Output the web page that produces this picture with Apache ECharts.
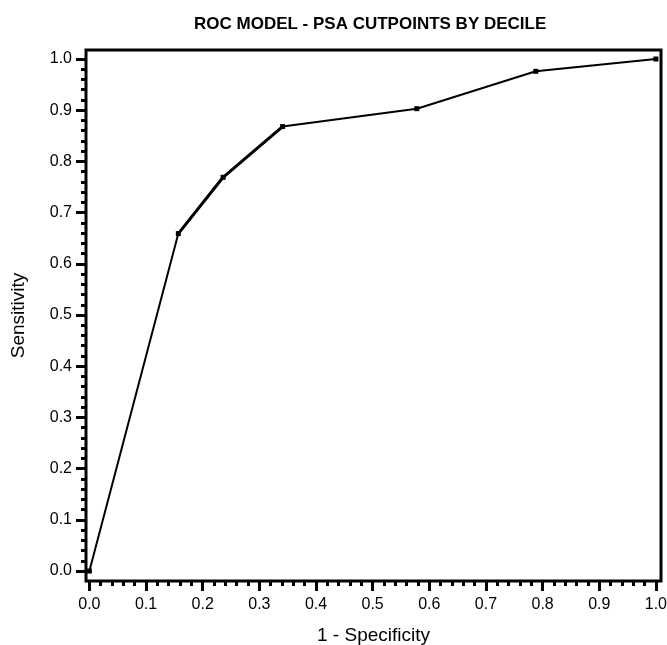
<!DOCTYPE html>
<html>
<head>
<meta charset="utf-8">
<script src="https://cdn.jsdelivr.net/npm/echarts@6/dist/echarts.min.js"></script>
<style>
    html, body { margin: 0; padding: 0; background: #fff; }
    #rocChart { width: 667px; height: 645px; }
</style>
</head>
<body>
<div id="rocChart"></div>
<script>
    // 1 - specificity / sensitivity per decile cutpoint
    const fpr = [0.0, 0.157, 0.236, 0.341, 0.578, 0.788, 1.0];
    const tpr = [0.0, 0.659, 0.769, 0.868, 0.903, 0.976, 1.0];
    const majorTicks = [0, 0.1, 0.2, 0.3, 0.4, 0.5, 0.6, 0.7, 0.8, 0.9, 1.0];
    let minorTicks = [];
    for (let i = 0; i <= 50; i++) {
        minorTicks.push(i / 50);
    }

    const points = fpr.map((x, i) => [x, tpr[i]]);
    // the 0.16 - 0.34 stretch is drawn heavier in the original
    const heavy = points.slice(1, 4);

    const font = 'Liberation Sans';

    function axisPair(dim, min, max) {
        let major = {
            type: 'value',
            min: min,
            max: max,
            position: dim === 'x' ? 'bottom' : 'left',
            axisLine: { show: false, onZero: false },
            splitLine: { show: false },
            axisTick: {
                show: true,
                inside: false,
                length: 10,
                customValues: majorTicks,
                lineStyle: { color: '#000', width: 3 }
            },
            axisLabel: {
                customValues: majorTicks,
                formatter: v => v.toFixed(1),
                color: '#000',
                fontFamily: font,
                fontSize: 16,
                margin: dim === 'x' ? 16 : 14
            }
        };
        let minor = {
            type: 'value',
            min: min,
            max: max,
            position: dim === 'x' ? 'bottom' : 'left',
            offset: 0,
            axisLine: { show: false, onZero: false },
            splitLine: { show: false },
            axisTick: {
                show: true,
                inside: false,
                length: 5,
                customValues: minorTicks,
                lineStyle: { color: '#000', width: 3 }
            },
            axisLabel: { show: false }
        };
        return [major, minor];
    }

    const xAxes = axisPair('x', -0.006, 1.009);
    xAxes[0].name = '1 - Specificity';
    xAxes[0].nameLocation = 'middle';
    xAxes[0].nameGap = 45;
    xAxes[0].nameTextStyle = { color: '#000', fontFamily: font, fontSize: 19 };

    const yAxes = axisPair('y', -0.0195, 1.0176);
    yAxes[0].name = 'Sensitivity';
    yAxes[0].nameLocation = 'middle';
    yAxes[0].nameGap = 58;
    yAxes[0].nameTextStyle = { color: '#000', fontFamily: font, fontSize: 19 };

    let option = {
        animation: false,
        backgroundColor: '#fff',
        title: {
            text: 'ROC MODEL - PSA CUTPOINTS BY DECILE',
            left: 189,
            top: 11,
            textStyle: {
                color: '#000',
                fontFamily: font,
                fontSize: 17,
                fontWeight: 'bold'
            }
        },
        grid: {
            left: 86,
            right: 6,
            top: 50,
            bottom: 64,
            outerBoundsMode: 'none',
            show: true,
            borderColor: '#000',
            borderWidth: 3,
            backgroundColor: '#fff'
        },
        xAxis: xAxes,
        yAxis: yAxes,
        series: [{
            type: 'line',
            data: points,
            symbol: 'rect',
            symbolSize: 5,
            itemStyle: { color: '#000' },
            lineStyle: { color: '#000', width: 2 }
        }, {
            type: 'line',
            data: heavy,
            symbol: 'none',
            lineStyle: { color: '#000', width: 3 }
        }]
    };

    let rocChart = echarts.init(document.getElementById('rocChart'));
    rocChart.setOption(option);
    window.onresize = rocChart.resize;
</script>
</body>
</html>
